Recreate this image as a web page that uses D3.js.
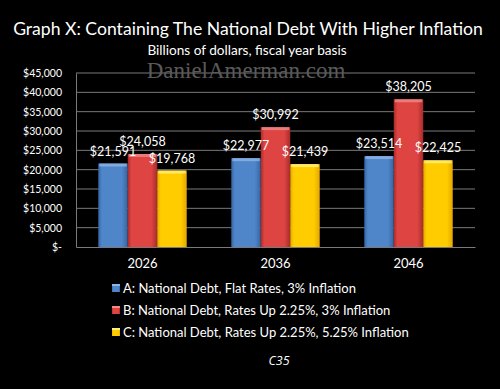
<!DOCTYPE html>
<html>
<head>
<meta charset="utf-8">
<script src="https://cdn.jsdelivr.net/npm/d3@7"></script>
<style>
  body { margin: 0; background: #000; }
  text { font-family: Lato, "Open Sans", sans-serif; fill: #fff; }
</style>
</head>
<body>
<div id="chart"></div>
<script>
// chart data
var years = ["2026", "2036", "2046"];
var seriesNames = [
    "A: National Debt, Flat Rates, 3% Inflation",
    "B: National Debt, Rates Up 2.25%, 3% Inflation",
    "C: National Debt, Rates Up 2.25%, 5.25% Inflation"
];
var seriesA = [21591, 22977, 23514];
var seriesB = [24058, 30992, 38205];
var seriesC = [19768, 21439, 22425];
var yTicks = [0, 5000, 10000, 15000, 20000, 25000, 30000, 35000, 40000, 45000];

var svgWidth = 500;
var svgHeight = 389;

var margin = { top: 73, bottom: 142, right: 25, left: 76 };
var width = svgWidth - margin.left - margin.right;
var height = svgHeight - margin.top - margin.bottom;

var svg = d3.select("#chart")
    .append("svg")
    .attr("width", svgWidth)
    .attr("height", svgHeight);

svg.append("rect").attr("width", svgWidth).attr("height", svgHeight).attr("fill", "#000");

// gradients for the bevelled bars
var palette = [
    { id: "gA", mid: "#4f86c9", edge: "#3465a4", top: "#8db4e6" },
    { id: "gB", mid: "#dd4442", edge: "#a82b2a", top: "#f08a88" },
    { id: "gC", mid: "#ffcc00", edge: "#e6a800", top: "#fff07a" }
];
var defs = svg.append("defs");
palette.forEach(function(p) {
    var g = defs.append("linearGradient").attr("id", p.id)
        .attr("x1", "0").attr("x2", "1").attr("y1", "0").attr("y2", "0");
    g.append("stop").attr("offset", "0%").attr("stop-color", p.edge);
    g.append("stop").attr("offset", "12%").attr("stop-color", p.mid);
    g.append("stop").attr("offset", "80%").attr("stop-color", p.mid);
    g.append("stop").attr("offset", "100%").attr("stop-color", p.edge);
});

// titles
svg.append("text")
    .attr("x", 248).attr("y", 35)
    .attr("text-anchor", "middle")
    .style("font-size", "17.6px")
    .text("Graph X: Containing The National Debt With Higher Inflation");

svg.append("text")
    .attr("x", 247).attr("y", 55)
    .attr("text-anchor", "middle")
    .style("font-size", "13.6px")
    .text("Billions of dollars, fiscal year basis");

var chartGroup = svg.append("g")
    .attr("transform", `translate(${margin.left}, ${margin.top})`);

var yScale = d3.scaleLinear().domain([0, 45000]).range([height, 0]);
var xScale = d3.scaleBand().domain(years).range([0, width]).paddingInner(0).paddingOuter(0);
var keys = ["A", "B", "C"];
var groupW = xScale.bandwidth() * 0.665;
var xSub = d3.scaleBand().domain(keys).range([0, groupW]);

// gridlines
chartGroup.append("g")
    .selectAll("line")
    .data(yTicks.slice(1))
    .enter()
    .append("line")
    .attr("x1", 0).attr("x2", width)
    .attr("y1", d => yScale(d)).attr("y2", d => yScale(d))
    .attr("stroke", "#7a7a7a").attr("stroke-width", 1);

// watermark
svg.append("text")
    .attr("x", 246).attr("y", 78)
    .attr("text-anchor", "middle")
    .style("font-family", "'Liberation Serif', serif")
    .style("font-size", "23px")
    .style("fill", "#5a5a5a")
    .text("DanielAmerman.com");

// left axis
var leftAxis = d3.axisLeft(yScale)
    .tickValues(yTicks)
    .tickSize(0)
    .tickPadding(14)
    .tickFormat(d => d === 0 ? "$-" : d3.format("$,")(d));
var yAxis = chartGroup.append("g").call(leftAxis);
yAxis.select(".domain").attr("stroke", "#7a7a7a");
yAxis.selectAll("text")
    .style("font-size", "10.5px")
    .style("font-family", "Lato, sans-serif")
    .attr("fill", "#fff");

// bottom axis
var bottomAxis = d3.axisBottom(xScale).tickSize(0).tickPadding(12);
var xAxis = chartGroup.append("g")
    .attr("transform", `translate(0, ${height})`)
    .call(bottomAxis);
xAxis.select(".domain").attr("stroke", "#7a7a7a");
xAxis.selectAll("text")
    .style("font-size", "13px")
    .style("font-family", "Lato, sans-serif")
    .attr("fill", "#fff");

// bars
var rows = years.map(function(y, i) {
    return { year: y, vals: [
        { key: "A", v: seriesA[i] },
        { key: "B", v: seriesB[i] },
        { key: "C", v: seriesC[i] }
    ] };
});

var groups = chartGroup.selectAll(".grp")
    .data(rows)
    .enter()
    .append("g")
    .attr("transform", d => `translate(${xScale(d.year) + (xScale.bandwidth() - groupW) / 2}, 0)`);

groups.selectAll("rect.bar")
    .data(d => d.vals)
    .enter()
    .append("rect")
    .attr("class", "bar")
    .attr("x", d => xSub(d.key))
    .attr("width", xSub.bandwidth())
    .attr("y", d => yScale(d.v))
    .attr("height", d => height - yScale(d.v))
    .attr("fill", (d, i) => `url(#${palette[i].id})`);

// top bevel highlight
groups.selectAll("rect.hl")
    .data(d => d.vals)
    .enter()
    .append("rect")
    .attr("class", "hl")
    .attr("x", d => xSub(d.key) + 1)
    .attr("width", xSub.bandwidth() - 2)
    .attr("y", d => yScale(d.v))
    .attr("height", 3)
    .attr("fill", (d, i) => palette[i].top)
    .attr("opacity", 0.8);

// value labels
groups.selectAll("text.val")
    .data(d => d.vals)
    .enter()
    .append("text")
    .attr("class", "val")
    .attr("x", d => xSub(d.key) + xSub.bandwidth() / 2)
    .attr("y", d => yScale(d.v) - 8)
    .attr("text-anchor", "middle")
    .style("font-size", "12.5px")
    .text(d => d3.format("$,")(d.v));

// legend
var legend = svg.append("g").attr("transform", "translate(112, 288)");
seriesNames.forEach(function(name, i) {
    var row = legend.append("g").attr("transform", `translate(0, ${i * 22})`);
    row.append("rect")
        .attr("x", 0).attr("y", -4)
        .attr("width", 8).attr("height", 8)
        .attr("fill", `url(#${palette[i].id})`);
    row.append("rect")
        .attr("x", 0).attr("y", -4)
        .attr("width", 8).attr("height", 2)
        .attr("fill", palette[i].top);
    row.append("text")
        .attr("x", 11).attr("y", 5)
        .style("font-size", "13px")
        .text(name);
});

// footnote
svg.append("text")
    .attr("x", 279).attr("y", 365)
    .attr("text-anchor", "middle")
    .style("font-family", "'Open Sans', 'Liberation Sans', sans-serif")
    .style("font-size", "12.5px")
    .style("font-style", "italic")
    .text("C35");
</script>
</body>
</html>
